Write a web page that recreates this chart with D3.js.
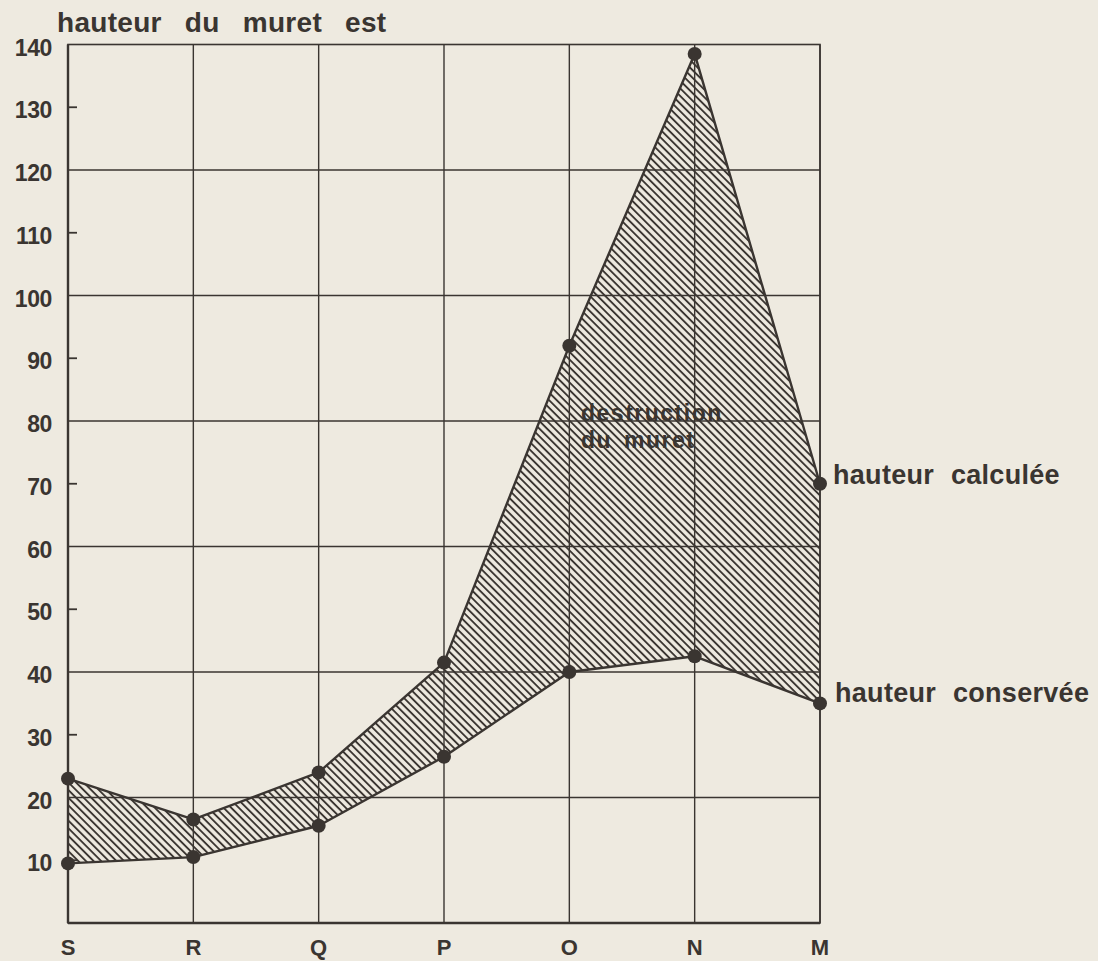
<!DOCTYPE html>
<html>
<head>
<meta charset="utf-8">
<script src="https://cdn.jsdelivr.net/npm/d3@7"></script>
<style>
  body { margin: 0; background: #eeeae0; }
  svg { display: block; }
  text { font-family: "Liberation Sans", Arial, sans-serif; fill: #3a3531; font-weight: bold; }
</style>
</head>
<body>
<div id="chart"></div>
<script>
const W = 1098, H = 961;

// sections of the wall, left to right
const sections = ["S", "R", "Q", "P", "O", "N", "M"];
// hauteur calculée
const calculee = [23, 16.5, 24, 41.5, 92, 138.5, 70];
// hauteur conservée
const conservee = [9.5, 10.5, 15.5, 26.5, 40, 42.5, 35];
const yTicks = [10, 20, 30, 40, 50, 60, 70, 80, 90, 100, 110, 120, 130, 140];
const yGrid = [20, 40, 60, 80, 100, 120];
const yMinor = [10, 30, 50, 70, 90, 110, 130];

const ink = "#3a3531";

const svg = d3.select("#chart").append("svg")
    .attr("width", W)
    .attr("height", H);

svg.append("rect").attr("width", W).attr("height", H).attr("fill", "#eeeae0");

// hatch pattern for the destroyed part
const defs = svg.append("defs");
const pat = defs.append("pattern")
    .attr("id", "hatch")
    .attr("patternUnits", "userSpaceOnUse")
    .attr("width", 5.4)
    .attr("height", 10)
    .attr("patternTransform", "rotate(-45)");
pat.append("line")
    .attr("x1", 2.7).attr("y1", 0)
    .attr("x2", 2.7).attr("y2", 10)
    .attr("stroke", ink)
    .attr("stroke-width", 1.9);

const x = d3.scalePoint()
    .domain(sections)
    .range([68, 820]);

const y = d3.scaleLinear()
    .domain([0, 140])
    .range([923, 44.5]);

const g = svg.append("g");

// grid
g.selectAll(".hgrid")
    .data(yGrid)
    .enter().append("line")
    .attr("x1", x("S")).attr("x2", x("M"))
    .attr("y1", d => y(d)).attr("y2", d => y(d))
    .attr("stroke", ink).attr("stroke-width", 1.4);

g.selectAll(".vgrid")
    .data(sections)
    .enter().append("line")
    .attr("x1", d => x(d)).attr("x2", d => x(d))
    .attr("y1", y(0)).attr("y2", y(140))
    .attr("stroke", ink).attr("stroke-width", 1.4);

// frame
g.append("rect")
    .attr("x", x("S")).attr("y", y(140))
    .attr("width", x("M") - x("S"))
    .attr("height", y(0) - y(140))
    .attr("fill", "none")
    .attr("stroke", ink).attr("stroke-width", 1.6);

g.append("line")
    .attr("x1", x("S")).attr("x2", x("M"))
    .attr("y1", y(0)).attr("y2", y(0))
    .attr("stroke", ink).attr("stroke-width", 2.6);
g.append("line")
    .attr("x1", x("S")).attr("x2", x("S"))
    .attr("y1", y(0)).attr("y2", y(140))
    .attr("stroke", ink).attr("stroke-width", 2.4);

// minor ticks on the left axis
g.selectAll(".minor")
    .data(yMinor)
    .enter().append("line")
    .attr("x1", x("S")).attr("x2", x("S") + 9)
    .attr("y1", d => y(d)).attr("y2", d => y(d))
    .attr("stroke", ink).attr("stroke-width", 1.8);

// hatched band between the two curves
const band = sections.map((s, i) => ({ s: s, top: calculee[i], bot: conservee[i] }));

const area = d3.area()
    .x(d => x(d.s))
    .y0(d => y(d.bot))
    .y1(d => y(d.top));

g.append("path")
    .datum(band)
    .attr("d", area)
    .attr("fill", "url(#hatch)");

// in-area label
g.append("text")
    .attr("x", 581).attr("y", 421)
    .attr("font-size", 23)
    .attr("letter-spacing", 1.5)
    .attr("fill", "#4a4540")
    .text("destruction");
g.append("text")
    .attr("x", 581).attr("y", 448)
    .attr("font-size", 23)
    .attr("letter-spacing", 1.5)
    .attr("word-spacing", 4)
    .attr("fill", "#4a4540")
    .text("du muret");

const line = d3.line()
    .x((d, i) => x(sections[i]))
    .y(d => y(d));

[calculee, conservee].forEach(series => {
    g.append("path")
        .datum(series)
        .attr("d", line)
        .attr("fill", "none")
        .attr("stroke", ink)
        .attr("stroke-width", 2.4)
        .attr("stroke-linejoin", "round");

    g.selectAll(null)
        .data(series)
        .enter().append("circle")
        .attr("cx", (d, i) => x(sections[i]))
        .attr("cy", d => y(d))
        .attr("r", 7)
        .attr("fill", ink);
});

// y labels
g.selectAll(".ylab")
    .data(yTicks)
    .enter().append("text")
    .attr("x", 52)
    .attr("y", d => y(d) + 11)
    .attr("text-anchor", "end")
    .attr("font-size", 23)
    .attr("letter-spacing", -0.4)
    .text(d => d);

// x labels
g.selectAll(".xlab")
    .data(sections)
    .enter().append("text")
    .attr("x", d => x(d))
    .attr("y", 955)
    .attr("text-anchor", "middle")
    .attr("font-size", 22)
    .text(d => d);

// title
svg.append("text")
    .attr("x", 57).attr("y", 32)
    .attr("font-size", 28)
    .attr("letter-spacing", 0.3)
    .attr("word-spacing", 15)
    .text("hauteur du muret est");

// series labels on the right
svg.append("text")
    .attr("x", 833).attr("y", y(70))
    .attr("font-size", 27)
    .attr("letter-spacing", 0.3)
    .attr("word-spacing", 9)
    .text("hauteur calculée");
svg.append("text")
    .attr("x", 835).attr("y", y(35) - 1)
    .attr("font-size", 27)
    .attr("letter-spacing", 0.3)
    .attr("word-spacing", 9)
    .text("hauteur conservée");
</script>
</body>
</html>
